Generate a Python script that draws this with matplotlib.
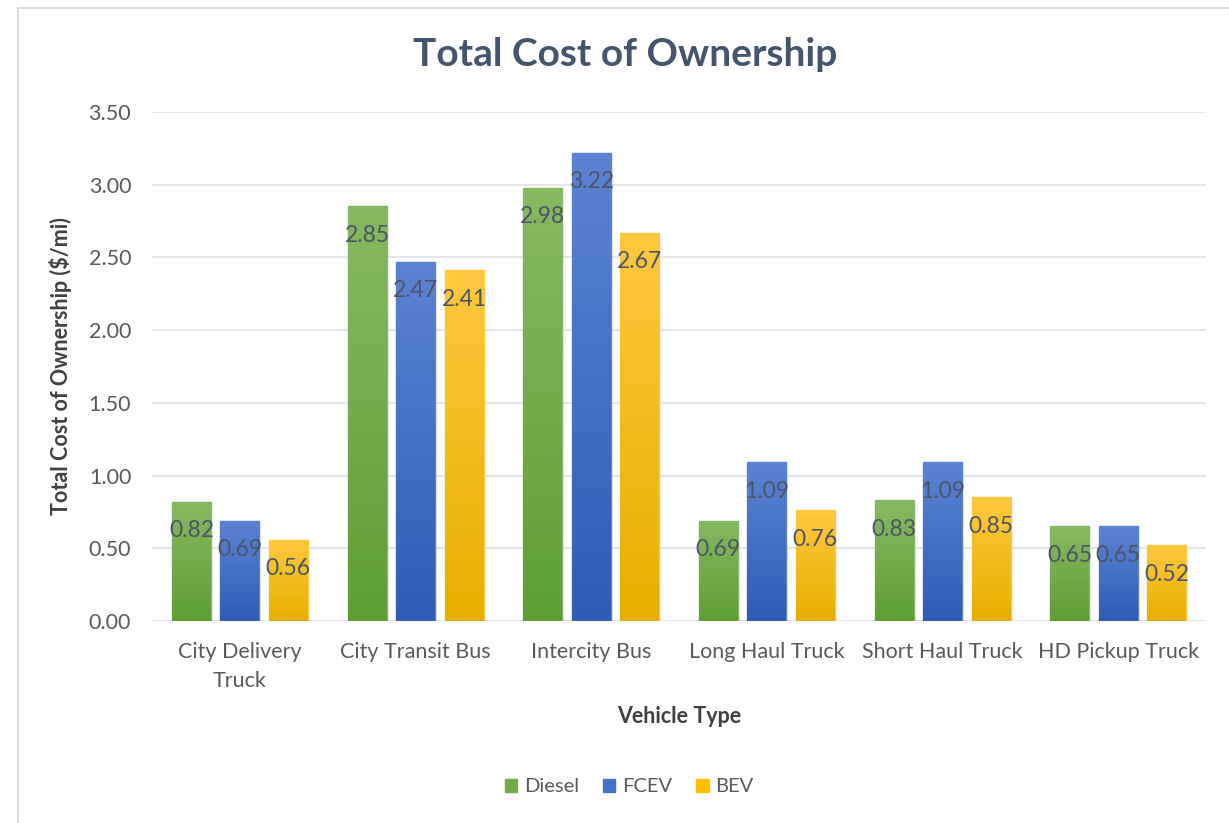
"""Total cost of ownership by vehicle type, Excel-style clustered bars."""

import matplotlib

matplotlib.use("Agg")
import matplotlib.pyplot as plt
import numpy as np
from matplotlib.colors import LinearSegmentedColormap
from matplotlib.patches import Rectangle

plt.rcParams["font.family"] = ["Lato", "DejaVu Sans"]

categories = ["City Delivery\nTruck", "City Transit Bus", "Intercity Bus",
              "Long Haul Truck", "Short Haul Truck", "HD Pickup Truck"]
series_names = ["Diesel", "FCEV", "BEV"]
diesel = [0.82, 2.85, 2.98, 0.69, 0.83, 0.65]
fcev = [0.69, 2.47, 3.22, 1.09, 1.09, 0.65]
bev = [0.56, 2.41, 2.67, 0.76, 0.85, 0.52]
y_ticks = [0.0, 0.5, 1.0, 1.5, 2.0, 2.5, 3.0, 3.5]

# (top colour, bottom colour, legend colour)
palette = [
    ("#86BA62", "#5F9E35", "#70AD47"),
    ("#5B83D2", "#2E5DB7", "#4472C4"),
    ("#FFC83F", "#E6B000", "#FFC000"),
]

fig = plt.figure(figsize=(12.29, 8.23), dpi=100)
ax = fig.add_axes([0.1237, 0.2455, 0.8576, 0.6185])

# faint frame of the chart area
fig.patches.append(Rectangle((18 / 1229, -0.05), 1.1, 1 - 8 / 823 + 0.05,
                             transform=fig.transFigure, fill=False,
                             edgecolor="#D9DDE3", linewidth=1.5))

x = np.arange(len(categories))
pitch = 0.276
width = 0.222
grad = np.linspace(0, 1, 256).reshape(-1, 1)

for i, (values, (top, bottom, solid)) in enumerate(zip([diesel, fcev, bev], palette)):
    offs = (i - 1) * pitch
    bars = ax.bar(x + offs, values, width, color=solid, edgecolor=top,
                  linewidth=1.0, label=series_names[i], zorder=2)
    cmap = LinearSegmentedColormap.from_list(f"g{i}", [bottom, top])
    for bar, v in zip(bars, values):
        x0 = bar.get_x()
        im = ax.imshow(grad, cmap=cmap, origin="lower", aspect="auto",
                       extent=[x0, x0 + width, 0, v], zorder=2.5)
        im.set_clip_path(bar)
        ax.text(x0 + width / 2, v - 0.2, f"{v:.2f}", ha="center", va="center",
                fontsize=16.5, color="#4B5466", zorder=3)

ax.set_xlim(-0.5, len(categories) - 0.5)
ax.set_ylim(0, 3.5)
ax.set_yticks(y_ticks)
ax.set_yticklabels([f"{t:.2f}" for t in y_ticks])
ax.set_xticks(x)
ax.set_xticklabels(categories, linespacing=1.55)
ax.tick_params(axis="both", length=0, labelsize=15.5, colors="#595959")
ax.tick_params(axis="x", pad=15)
ax.tick_params(axis="y", pad=15)
ax.grid(axis="y", color="#E3E6EA", linewidth=1.5, zorder=0)
ax.set_axisbelow(True)
for side in ["top", "right", "left", "bottom"]:
    ax.spines[side].set_visible(False)

ax.set_ylabel("Total Cost of Ownership ($/mi)", fontsize=15.5, fontweight="bold",
              color="#404040", labelpad=12)
ax.set_xlabel("Vehicle Type", fontsize=15.5, fontweight="bold", color="#404040",
              labelpad=11)
fig.text(0.509, 1 - 55 / 823, "Total Cost of Ownership", fontsize=28,
         fontweight="bold", color="#44546A", ha="center", va="center")

handles = [Rectangle((0, 0), 1, 1, color=c[2]) for c in palette]
fig.legend(handles, series_names, loc="center", bbox_to_anchor=(0.512, 1 - 787 / 823),
           ncol=3, frameon=False, fontsize=14.5, handlelength=0.6, handleheight=0.6,
           handletextpad=0.35, columnspacing=1.2, labelcolor="#595959")

fig.savefig("out.png", dpi=100, facecolor="white")
